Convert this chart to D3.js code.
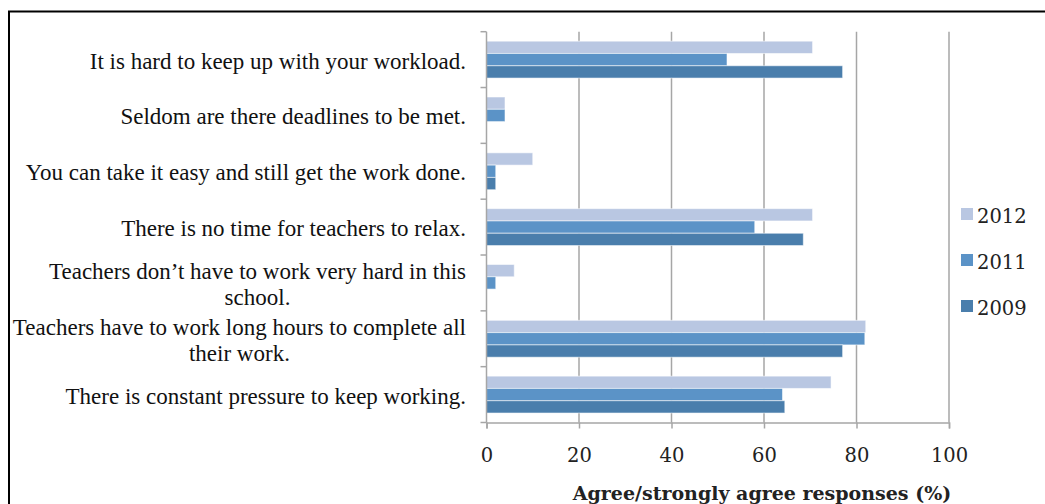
<!DOCTYPE html>
<html>
<head>
<meta charset="utf-8">
<script src="https://cdn.jsdelivr.net/npm/d3@7"></script>
<style>
  body { margin: 0; background: #fff; }
  svg { display: block; }
</style>
</head>
<body>
<div id="chart-area"></div>
<script>
// statements, top to bottom ("\n" = where the label wraps)
const statements = [
	"It is hard to keep up with your workload.",
	"Seldom are there deadlines to be met.",
	"You can take it easy and still get the work done.",
	"There is no time for teachers to relax.",
	"Teachers don\u2019t have to work very hard in this\nschool.",
	"Teachers have to work long hours to complete all\ntheir work.",
	"There is constant pressure to keep working."
]
const years = ["2012", "2011", "2009"]
const values2012 = [70.5, 4, 10, 70.5, 6, 82, 74.5]
const values2011 = [52, 4, 2, 58, 2, 81.8, 64]
const values2009 = [77, 0, 2, 68.5, 0, 77, 64.5]
const xTicks = [0, 20, 40, 60, 80, 100]
const xTitle = "Agree/strongly agree responses (%)"

const seriesValues = { "2012": values2012, "2011": values2011, "2009": values2009 }
const colors = { "2012": "#b9c7e2", "2011": "#5b93c7", "2009": "#4a7eac" }

/* Canvas */
const CANVAS_WIDTH = 1045
const CANVAS_HEIGHT = 504
const plot = { left: 486.5, right: 949, top: 31.7, bottom: 422.5 }

const $svg = d3.select('#chart-area')
	.append('svg')
	.attr('width', CANVAS_WIDTH)
	.attr('height', CANVAS_HEIGHT)

// frame (only top and left edges are visible in the picture)
$svg.append('path')
	.attr('d', `M9,${CANVAS_HEIGHT + 2} V11.5 H${CANVAS_WIDTH + 2}`)
	.attr('fill', 'none')
	.attr('stroke', '#000')
	.attr('stroke-width', 2)

/* Scales */
const xScale = d3.scaleLinear()
	.domain([0, 100])
	.range([plot.left, plot.right])

const yScale = d3.scaleBand()
	.domain(statements)
	.range([plot.top, plot.bottom])

const barScale = d3.scaleBand()
	.domain(years)
	.range([0, yScale.bandwidth()])
	.paddingOuter(0.77)

/* Gridlines */
$svg.append('g')
	.selectAll('line')
	.data(xTicks.slice(1))
	.enter()
	.append('line')
	.attr('x1', d => xScale(d))
	.attr('x2', d => xScale(d))
	.attr('y1', plot.top)
	.attr('y2', plot.bottom)
	.attr('stroke', '#a6a6a6')
	.attr('stroke-width', 1.5)

/* Bars */
const rows = statements.map((s, i) => years.map(y => ({ statement: s, year: y, value: seriesValues[y][i] }))).flat()

$svg.append('g')
	.selectAll('rect')
	.data(rows.filter(d => d.value > 0))
	.enter()
	.append('rect')
	.attr('x', xScale(0))
	.attr('y', d => yScale(d.statement) + barScale(d.year))
	.attr('width', d => xScale(d.value) - xScale(0))
	.attr('height', barScale.bandwidth())
	.attr('fill', d => colors[d.year])
	.attr('stroke', 'rgba(255,255,255,0.55)')
	.attr('stroke-width', 1)

/* Axes */
const xAxisCall = d3.axisBottom(xScale)
	.tickValues(xTicks)
	.tickSize(6)
	.tickPadding(20)

const $xAxis = $svg.append('g')
	.attr('transform', `translate(0, ${plot.bottom})`)
	.call(xAxisCall)
$xAxis.select('.domain').attr('stroke', '#a6a6a6').attr('stroke-width', 1.5)
$xAxis.selectAll('line').attr('stroke', '#a6a6a6').attr('stroke-width', 1.5)
$xAxis.selectAll('text')
	.attr('font-family', "'DejaVu Serif', serif")
	.attr('font-size', 19.5)
	.attr('fill', '#222')

// category axis: ticks at the boundaries between statements
const boundaries = statements.map(s => yScale(s)).concat([plot.bottom])
$svg.append('line')
	.attr('x1', plot.left).attr('x2', plot.left)
	.attr('y1', plot.top).attr('y2', plot.bottom)
	.attr('stroke', '#a6a6a6').attr('stroke-width', 1.5)
$svg.append('g')
	.selectAll('line')
	.data(boundaries)
	.enter()
	.append('line')
	.attr('x1', plot.left - 6).attr('x2', plot.left)
	.attr('y1', d => d).attr('y2', d => d)
	.attr('stroke', '#a6a6a6').attr('stroke-width', 1.5)

/* Category labels */
const labelRight = 466
const lineHeight = 26
const $labels = $svg.append('g')
	.attr('font-family', "'Liberation Serif', 'Times New Roman', serif")
	.attr('font-size', 23)
	.attr('fill', '#111')

statements.forEach(s => {
	const lines = s.split('\n')
	const cy = yScale(s) + yScale.bandwidth() / 2
	const $t = $labels.append('text')
		.attr('dominant-baseline', 'central')
	$t.selectAll('tspan')
		.data(lines)
		.enter()
		.append('tspan')
		.attr('y', (d, i) => cy + (i - (lines.length - 1) / 2) * lineHeight + 1)
		.text(d => d)
	// right-align the block, centre the lines inside it
	const widths = []
	$t.selectAll('tspan').each(function() { widths.push(this.getComputedTextLength()) })
	const blockWidth = d3.max(widths)
	if (lines.length > 1) {
		$t.attr('text-anchor', 'middle')
		$t.selectAll('tspan').attr('x', labelRight - blockWidth / 2)
	} else {
		$t.attr('text-anchor', 'end')
		$t.selectAll('tspan').attr('x', labelRight)
	}
})

/* Axis title */
$svg.append('text')
	.attr('x', 762)
	.attr('y', 493)
	.attr('text-anchor', 'middle')
	.attr('dominant-baseline', 'central')
	.attr('font-family', "'DejaVu Serif', serif")
	.attr('font-weight', 'bold')
	.attr('font-size', 19)
	.attr('fill', '#222')
	.text(xTitle)

/* Legend */
const $legend = $svg.append('g')
	.attr('transform', 'translate(961, 215)')

$legend.selectAll('rect')
	.data(years)
	.enter()
	.append('rect')
	.attr('x', 0)
	.attr('y', (d, i) => i * 46 - 7)
	.attr('width', 12)
	.attr('height', 12)
	.attr('fill', d => colors[d])

$legend.selectAll('text')
	.data(years)
	.enter()
	.append('text')
	.attr('x', 16)
	.attr('y', (d, i) => i * 46 + 1)
	.attr('dominant-baseline', 'central')
	.attr('font-family', "'DejaVu Serif', serif")
	.attr('font-size', 19.5)
	.attr('fill', '#222')
	.text(d => d)
</script>
</body>
</html>
